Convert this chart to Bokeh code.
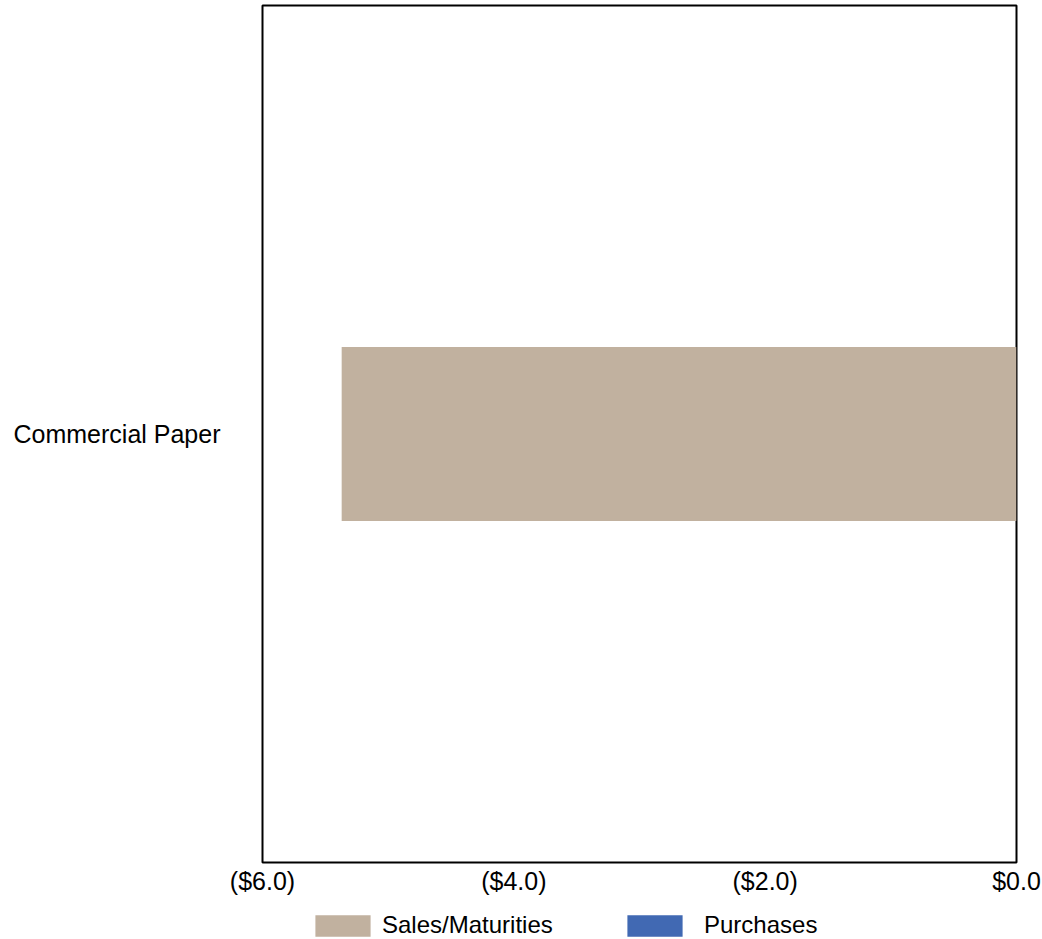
from bokeh.plotting import figure
from bokeh.models import Legend, LegendItem, FixedTicker, Range1d, FactorRange
from bokeh.layouts import column
from bokeh.embed import file_html
from bokeh.resources import INLINE

categories = ["Commercial Paper"]
sales_maturities = [-5.37]
purchases = [0.0]
tick_values = [-6, -4, -2, 0]
tick_labels = ["($6.0)", "($4.0)", "($2.0)", "$0.0"]
series_names = ["Sales/Maturities", "Purchases"]
series_values = [sales_maturities, purchases]
series_colors = ["#C1B19F", "#4169B3"]

FONT = "Liberation Sans"

p = figure(width=1042, height=900,
           y_range=FactorRange(*categories),
           x_range=Range1d(-6, 0), output_backend="svg", toolbar_location=None,
           min_border_left=262, min_border_right=26, min_border_top=5, min_border_bottom=38)

for vals, color in zip(series_values, series_colors):
    p.hbar(y=categories, left=0, right=vals, height=0.203,
           fill_color=color, line_color=None)

p.grid.visible = False
p.outline_line_color = "black"
p.outline_line_width = 2
p.background_fill_color = "white"
p.border_fill_color = "white"

xa = p.xaxis[0]
xa.ticker = FixedTicker(ticks=tick_values)
xa.major_label_overrides = {v: l for v, l in zip(tick_values, tick_labels)}
xa.axis_line_color = None
xa.major_tick_line_color = None
xa.minor_tick_line_color = None
xa.major_tick_out = 0
xa.major_tick_in = 0
xa.major_label_standoff = 4
xa.major_label_text_font = FONT
xa.major_label_text_font_size = "25px"
xa.major_label_text_color = "black"

ya = p.yaxis[0]
ya.axis_line_color = None
ya.major_tick_line_color = None
ya.minor_tick_line_color = None
ya.major_tick_out = 0
ya.major_tick_in = 0
ya.major_label_standoff = 42
ya.major_label_text_font = FONT
ya.major_label_text_font_size = "25px"
ya.major_label_text_color = "black"

# legend strip below the chart
lp = figure(width=1042, height=39, x_range=Range1d(-6, 0),
            y_range=FactorRange(*categories),
            output_backend="svg", toolbar_location=None,
            x_axis_location=None, y_axis_location=None,
            min_border_left=262, min_border_right=26, min_border_top=0, min_border_bottom=0)
lp.grid.visible = False
lp.outline_line_color = None
lp.background_fill_color = "white"
lp.border_fill_color = "white"

legend_x = [46, 358]
legend_standoff = [5, 15]
for name, vals, color, lx, so in zip(series_names, series_values, series_colors,
                                     legend_x, legend_standoff):
    rr = lp.hbar(y=categories, left=0, right=vals, height=0.203,
                 fill_color=color, line_color=None, visible=False)
    lg = Legend(items=[LegendItem(label=name, renderers=[rr])],
                location=(lx, 0), orientation="horizontal",
                padding=0, margin=0, border_line_color=None,
                background_fill_alpha=0, inactive_fill_alpha=0,
                glyph_width=69, glyph_height=27,
                label_standoff=so, label_text_font=FONT,
                label_text_font_size="24px", label_text_color="black")
    lp.add_layout(lg)

open("out.html", "w").write(file_html(column(p, lp, spacing=0), INLINE))
